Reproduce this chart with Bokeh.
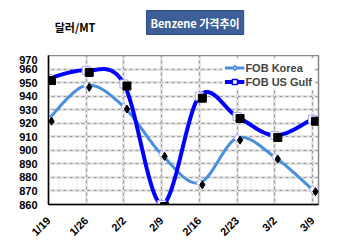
import numpy as np
from math import pi
from bokeh.plotting import figure
from bokeh.layouts import column
from bokeh.models import Range1d, FixedTicker, Grid, Label, Legend, LegendItem
from bokeh.transform import dodge
from bokeh.embed import file_html
from bokeh.resources import INLINE

dates = ["1/19", "1/26", "2/2", "2/9", "2/16", "2/23", "3/2", "3/9"]
korea = [923, 948, 932, 897, 876, 909, 895, 871]
usgulf = [953, 959, 949, 860, 940, 925, 911, 923]
y_ticks = list(range(860, 971, 10))

idx = list(range(len(dates)))


def smooth(ys, n=24):
    P = np.array(list(zip(idx, ys)), float)
    out = []
    for i in range(len(P) - 1):
        p0 = P[i - 1] if i > 0 else P[i]
        p1, p2 = P[i], P[i + 1]
        p3 = P[i + 2] if i + 2 < len(P) else P[i + 1]
        c1 = p1 + (p2 - p0) / 6
        c2 = p2 - (p3 - p1) / 6
        t = np.linspace(0, 1, n)[:, None]
        seg = (1 - t) ** 3 * p1 + 3 * (1 - t) ** 2 * t * c1 + 3 * (1 - t) * t ** 2 * c2 + t ** 3 * p2
        out.append(seg)
    out = np.vstack(out)
    return out[:, 0], out[:, 1]


FONT = "Liberation Sans"

# ---- header strip with the titles ----
top = figure(width=350, height=55, output_backend="svg", toolbar_location=None,
             x_range=Range1d(0, 350), y_range=Range1d(0, 55),
             min_border=0, outline_line_color=None)
top.axis.visible = False
top.grid.visible = False
top.add_layout(Label(x=8, y=29, text="달러/MT",
                     text_font="Noto Sans CJK KR", text_font_style="bold", text_font_size="11px",
                     text_color="black", text_baseline="middle", text_align="left"))
top.add_layout(Label(x=190, y=33, text="Benzene 가격추이",
                     text_font="Noto Sans CJK KR", text_font_style="bold", text_font_size="11px",
                     text_color="white", text_baseline="middle", text_align="center",
                     background_fill_color="#3b5f96", padding=4, border_line_color="#2d4c7c"))

# ---- main chart ----
p = figure(width=350, height=190, output_backend="svg", toolbar_location=None,
           x_range=Range1d(0, 7.16), y_range=Range1d(860, 970),
           min_border_left=48, min_border_right=32, min_border_top=0, min_border_bottom=40)
p.background_fill_color = "white"
p.border_fill_color = "white"
p.outline_line_color = "#888888"
p.outline_line_width = 1.5

p.xaxis.ticker = FixedTicker(ticks=idx)
p.yaxis.ticker = FixedTicker(ticks=y_ticks)
p.xaxis.major_label_overrides = {i: d for i, d in enumerate(dates)}
for g in (p.xgrid, p.ygrid):
    g.grid_line_color = "#9a9a9a"
    g.grid_line_width = 1.5
p.add_layout(Grid(dimension=0, ticker=p.xaxis.ticker, grid_line_color="white",
                  grid_line_width=1, grid_line_dash="3 3", grid_line_alpha=0.8))
p.add_layout(Grid(dimension=1, ticker=p.yaxis.ticker, grid_line_color="white",
                  grid_line_width=1, grid_line_dash="3 3", grid_line_alpha=0.8))

for ax in (p.xaxis, p.yaxis):
    ax.axis_line_color = "black"
    ax.axis_line_width = 1.5
    ax.major_tick_in = 0
    ax.major_tick_out = 0
    ax.minor_tick_line_color = None
    ax.major_label_text_font = FONT
    ax.major_label_text_font_style = "bold"
    ax.major_label_text_font_size = "11px"
    ax.major_label_text_color = "black"
p.yaxis.major_label_standoff = 11
p.xaxis.major_label_standoff = 14
p.xaxis.major_label_orientation = pi / 4

kx, ky = smooth(korea)
gx, gy = smooth(usgulf)

p.line(kx, ky, line_color="#4a8ede", line_width=3)
p.line(gx, gy, line_color="#0000ff", line_width=4)

src_k = dict(x=idx, y=korea)
src_g = dict(x=idx, y=usgulf)
p.scatter(idx, korea, marker="diamond", size=9, fill_color="white",
          line_color="#a9a9f0", line_width=1)
p.scatter(idx, usgulf, marker="square", size=8, fill_color="white",
          line_color="#a9a9f0", line_width=1)
p.scatter(x=dodge("x", 0.08, range=p.x_range), y=dodge("y", -1.5, range=p.y_range),
          source=src_k, marker="diamond", size=8, fill_color="black", line_color="black")
p.scatter(x=dodge("x", 0.08, range=p.x_range), y=dodge("y", -1.5, range=p.y_range),
          source=src_g, marker="square", size=8, fill_color="black", line_color="black")

# legend (proxy renderers placed outside the visible range)
leg_k = p.line([-5, -4], [800, 800], line_color="#4a8ede", line_width=3)
leg_km = p.scatter([-5], [800], marker="diamond", size=7, fill_color="white", line_color="#4a8ede", line_width=1.5)
leg_g = p.line([-5, -4], [800, 800], line_color="#0000ff", line_width=4)
leg_gm = p.scatter([-5], [800], marker="square", size=7, fill_color="white", line_color="#0000ff", line_width=1.5)
legend = Legend(items=[LegendItem(label="FOB Korea", renderers=[leg_k, leg_km]),
                       LegendItem(label="FOB US Gulf", renderers=[leg_g, leg_gm])],
                location="top_right")
legend.label_text_font = FONT
legend.label_text_font_style = "bold"
legend.label_text_font_size = "11px"
legend.padding = 2
legend.spacing = 1
legend.margin = 4
legend.glyph_width = 20
legend.glyph_height = 13
legend.label_height = 13
legend.label_standoff = 1
legend.border_line_alpha = 0
legend.background_fill_alpha = 1
p.add_layout(legend)

layout = column(top, p, spacing=0)
open("out.html", "w").write(file_html(layout, INLINE))
